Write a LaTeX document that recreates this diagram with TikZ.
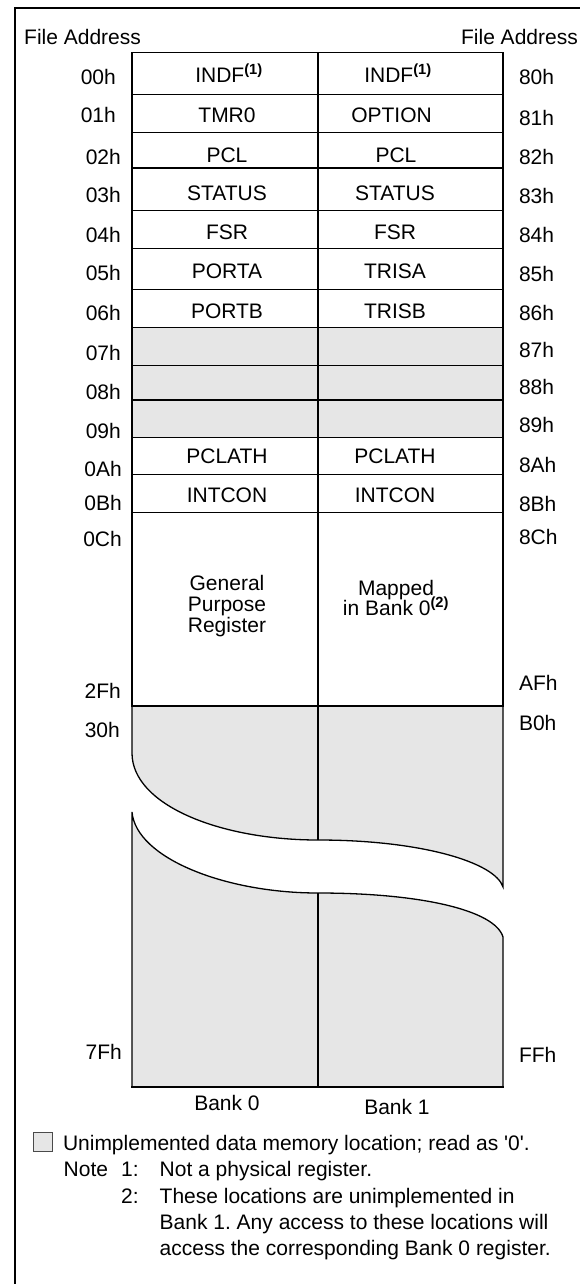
\documentclass[tikz,border=0pt]{standalone}
\usepackage{fontspec}
\setmainfont{Liberation Sans}
\frenchspacing
\definecolor{cellgray}{HTML}{E6E6E6}
\definecolor{boxedge}{HTML}{4A4A4A}
\begin{document}
\begin{tikzpicture}[x=1pt,y=-1pt,
  txt/.style={inner sep=0pt, text height=15pt, text depth=0pt, font=\fontsize{21}{24}\selectfont},
  gridline/.style={line width=1.3pt, line join=miter},
  midline/.style={line width=1.1pt},
  framecut/.style={line width=2pt},
  grayfill/.style={fill=cellgray}]
\useasboundingbox (0,0) rectangle (580,1284);
\fill[white] (0,0) rectangle (580,1284);
% frame (cut off on the right and bottom)
\draw[framecut] (580,8.3) -- (14.8,8.3) -- (14.8,1284);
% headers
\node[txt, anchor=west] (hdrL) at (24,36.7) {File Address};
\node[txt, anchor=east] (hdrR) at (578,36.7) {File Address};
% gray fills
\fill[grayfill] (132,327.3) rectangle (503,437.3);
\fill[grayfill] (132,706) -- (503,706) -- (503,887)
   .. controls (495,862) and (420,840) .. (318,840)
   .. controls (220,840) and (132,805) .. (132,753) -- cycle;
\fill[grayfill] (132,812) .. controls (136,858) and (225,893) .. (318,893)
   .. controls (420,893) and (495,910) .. (503,937) -- (503,1087) -- (132,1087) -- cycle;
% upper block
\draw[gridline] (132,52.7) rectangle (503,706);
\foreach \yy in {94.3,132.7,168,210.7,248.3,289.7,327.3,365.7,400,437.3,474.7,512.3}
  \draw[gridline] (132,\yy) -- (503,\yy);
\draw[midline] (318,52.7) -- (318,706);
% lower block with the break
\draw[gridline] (132,706) -- (132,753)
   .. controls (132,805) and (220,840) .. (318,840)
   .. controls (420,840) and (495,862) .. (503,887) -- (503,706);
\draw[gridline] (132,1087) -- (132,812)
   .. controls (136,858) and (225,893) .. (318,893)
   .. controls (420,893) and (495,910) .. (503,937) -- (503,1087);
\draw[line width=2.2pt] (131.4,1087) -- (503.6,1087);
\draw[midline] (318,706) -- (318,840);
\draw[midline] (318,893) -- (318,1087);
% left addresses
\foreach \n/\xx/\yy in {00h/116/76.7, 01h/116/115, 02h/121/156.7, 03h/121/195, 04h/121/235,
   05h/121/273, 06h/121/313, 07h/121/353, 08h/121/392, 09h/121/431, 0Ah/122/469,
   0Bh/122/503, 0Ch/122/539, 2Fh/121/691, 30h/120/730, 7Fh/122/1052}
  \node[txt, anchor=east] (L\n) at (\xx,\yy) {\n};
% right addresses
\foreach \n/\yy in {80h/77, 81h/118, 82h/157, 83h/196, 84h/235, 85h/274, 86h/313,
   87h/350, 88h/387, 89h/425, 8Ah/465, 8Bh/504, 8Ch/537, AFh/683, B0h/723, FFh/1055}
  \node[txt, anchor=west] (R\n) at (518.8,\yy) {\n};
% bank 0 cells
\node[txt] (b0indf) at (229,75) {INDF\textsuperscript{\bfseries(1)}};
\node[txt] (b0tmr) at (227,115) {TMR0};
\node[txt] (b0pcl) at (227,155) {PCL};
\node[txt] (b0stat) at (227,193) {STATUS};
\node[txt] (b0fsr) at (227,232) {FSR};
\node[txt] (b0porta) at (227,271) {PORTA};
\node[txt] (b0portb) at (227,311) {PORTB};
\node[txt] (b0pclath) at (227,456) {PCLATH};
\node[txt] (b0intcon) at (227,495) {INTCON};
\node[txt] (b0gpr1) at (227,583) {General};
\node[txt] (b0gpr2) at (227,604) {Purpose};
\node[txt] (b0gpr3) at (227,625) {Register};
% bank 1 cells
\node[txt] (b1indf) at (398,75) {INDF\textsuperscript{\bfseries(1)}};
\node[txt] (b1opt) at (391.5,115) {OPTION};
\node[txt] (b1pcl) at (396,155) {PCL};
\node[txt] (b1stat) at (395,193) {STATUS};
\node[txt] (b1fsr) at (395,232) {FSR};
\node[txt] (b1trisa) at (395,271) {TRISA};
\node[txt] (b1trisb) at (395,311) {TRISB};
\node[txt] (b1pclath) at (395,456) {PCLATH};
\node[txt] (b1intcon) at (395,495) {INTCON};
\node[txt] (b1map1) at (396,588) {Mapped};
\node[txt] (b1map2) at (396,607.7) {in Bank 0\textsuperscript{\bfseries(2)}};
% bank names
\node[txt] (bank0) at (227,1103) {Bank 0};
\node[txt] (bank1) at (397,1107.3) {Bank 1};
% legend
\draw[boxedge, fill=cellgray, line width=1pt] (33.2,1132.7) rectangle (52.8,1151.7);
\node[txt, anchor=west] (legend) at (62.8,1143.3) {Unimplemented data memory location; read as \textquotesingle 0\textquotesingle.};
\node[txt, anchor=west] (note) at (63.5,1169.3) {Note};
\node[txt, anchor=west] (n1) at (121,1169.3) {1:};
\node[txt, anchor=west] (n1t) at (159.5,1169.3) {Not a physical register.};
\node[txt, anchor=west] (n2) at (121,1196) {2:};
\node[txt, anchor=west] (n2a) at (159.5,1196) {These locations are unimplemented in};
\node[txt, anchor=west] (n2b) at (159.5,1221.7) {Bank 1. Any access to these locations will};
\node[txt, anchor=west] (n2c) at (159.5,1248.3) {access the corresponding Bank 0 register.};
\end{tikzpicture}
\end{document}
